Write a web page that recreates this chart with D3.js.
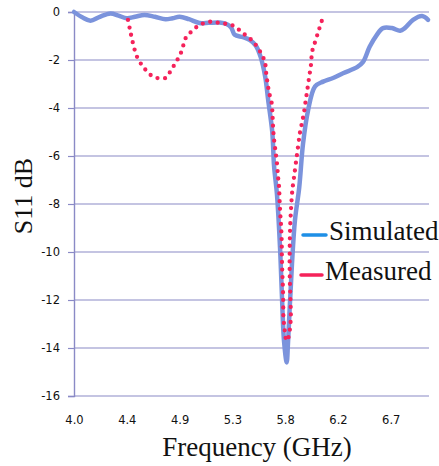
<!DOCTYPE html>
<html><head><meta charset="utf-8">
<script src="https://cdn.jsdelivr.net/npm/d3@7"></script>
<style>body{margin:0;background:#fff}svg{display:block}
.serif{font-family:"Liberation Serif","Times New Roman","DejaVu Serif",serif}
.sans{font-family:"DejaVu Sans",Verdana,sans-serif}</style>
</head><body>
<svg id="c" width="439" height="466"></svg>
<script>
const xTickValues = [4.0, 4.45, 4.9, 5.35, 5.8, 6.25, 6.7];
const xTickLabels = ["4.0", "4.4", "4.9", "5.3", "5.8", "6.2", "6.7"];
const yTickValues = [0, -2, -4, -6, -8, -10, -12, -14, -16];

const simFreq = [4.00,4.07,4.14,4.22,4.31,4.38,4.45,4.52,4.60,4.69,4.78,4.84,4.90,4.98,5.07,5.15,5.24,5.30,5.34,5.37,5.44,5.50,5.55,5.59,5.63,5.655,5.69,5.705,5.73,5.756,5.773,5.79,5.813,5.824,5.84,5.858,5.883,5.92,5.952,5.995,6.055,6.123,6.208,6.293,6.413,6.464,6.52,6.58,6.634,6.71,6.78,6.82,6.89,6.967,7.018];
const simS11  = [0,-0.22,-0.36,-0.2,-0.06,-0.15,-0.26,-0.2,-0.12,-0.2,-0.3,-0.26,-0.2,-0.3,-0.46,-0.45,-0.44,-0.5,-0.65,-0.95,-1.05,-1.17,-1.4,-1.86,-2.7,-3.67,-5.0,-6.4,-7.6,-9.8,-11.9,-13.7,-14.6,-13.8,-12.2,-10.5,-8.7,-7.3,-5.5,-4.1,-3.1,-2.9,-2.75,-2.55,-2.3,-2.08,-1.45,-0.96,-0.67,-0.67,-0.78,-0.67,-0.33,-0.17,-0.33];

const measFreq = [4.46,4.48,4.50,4.54,4.60,4.66,4.71,4.78,4.83,4.88,4.92,4.95,5.00,5.07,5.12,5.18,5.24,5.30,5.36,5.44,5.53,5.603,5.628,5.637,5.645,5.654,5.665,5.685,5.693,5.698,5.705,5.715,5.73,5.74,5.748,5.752,5.758,5.765,5.77,5.772,5.775,5.78,5.783,5.785,5.792,5.80,5.81,5.825,5.838,5.848,5.845,5.840,5.838,5.840,5.843,5.850,5.858,5.864,5.875,5.891,5.910,5.927,5.944,5.96,5.975,5.99,6.005,6.02,6.03,6.055,6.08,6.097,6.123];
const measS11  = [-0.33,-0.8,-1.25,-1.9,-2.35,-2.65,-2.75,-2.75,-2.4,-2.0,-1.6,-1.1,-0.82,-0.54,-0.45,-0.4,-0.46,-0.5,-0.58,-0.88,-1.25,-1.8,-2.1,-2.5,-2.8,-3.1,-3.4,-3.8,-4.4,-4.9,-5.3,-5.7,-6.3,-6.9,-7.3,-7.8,-8.4,-8.9,-9.5,-10.2,-10.8,-11.4,-12.0,-12.7,-13.1,-13.4,-13.7,-13.6,-13.3,-12.7,-12.0,-11.2,-10.5,-9.5,-8.9,-8.2,-7.6,-7.3,-6.9,-6.3,-5.6,-5.0,-4.6,-4.2,-3.7,-3.2,-2.7,-2.2,-1.65,-1.25,-0.86,-0.6,-0.2];

const seriesNames = ["Simulated", "Measured"];

const svg = d3.select("#c");
const x = d3.scaleLinear().domain([4.0, 7.026]).range([74, 429]);
const y = d3.scaleLinear().domain([-16, 0]).range([396, 12]);
const gridColor = "#8a8ac6";

svg.append("g").selectAll("line").data(yTickValues).join("line")
  .attr("x1", x(4.0)).attr("x2", x(7.026))
  .attr("y1", d => y(d)).attr("y2", d => y(d))
  .attr("stroke", gridColor).attr("stroke-width", 1.2);

const yAxis = d3.axisLeft(y).tickValues(yTickValues).tickSize(6).tickPadding(8)
  .tickFormat(d => String(d));
const gy = svg.append("g").attr("transform", `translate(${x(4.0)},0)`).call(yAxis);
gy.attr("font-family", null).attr("font-size", null);
gy.select(".domain").attr("stroke", gridColor).attr("stroke-width", 1.4);
gy.selectAll(".tick line").attr("stroke", gridColor).attr("stroke-width", 1.2);
gy.selectAll("text").attr("class", "sans").attr("font-size", 11.5).attr("fill", "#111");

const xAxis = d3.axisBottom(x).tickValues(xTickValues).tickSize(0).tickPadding(20)
  .tickFormat((d, i) => xTickLabels[i]);
const gx = svg.append("g").attr("transform", `translate(0,${y(-16)})`).call(xAxis);
gx.attr("font-family", null).attr("font-size", null);
gx.select(".domain").remove();
gx.selectAll("text").attr("class", "sans").attr("font-size", 11.5).attr("fill", "#111");

const line = d3.line().curve(d3.curveCatmullRom.alpha(0.5));
const simPts = simFreq.map((f, i) => [x(f), y(simS11[i])]);
const measPts = measFreq.map((f, i) => [x(f), y(measS11[i])]);

svg.append("path").attr("d", line(simPts)).attr("fill", "none")
  .attr("stroke", "#7b93dc").attr("stroke-width", 4.5)
  .attr("stroke-linejoin", "round").attr("stroke-linecap", "round");
svg.append("path").attr("d", line(measPts)).attr("fill", "none")
  .attr("stroke", "#f5225a").attr("stroke-width", 4.3)
  .attr("stroke-dasharray", "0 7.6").attr("stroke-linecap", "round");

svg.append("text").attr("class", "serif").attr("x", 257).attr("y", 456).attr("text-anchor", "middle")
  .attr("font-size", 27).attr("fill", "#111")
  .text("Frequency (GHz)");
svg.append("text").attr("class", "serif").attr("transform", "translate(32,196) rotate(-90)").attr("text-anchor", "middle")
  .attr("font-size", 26).attr("fill", "#111")
  .text("S11 dB");

const legend = svg.append("g");
const legColors = ["#1e8fe6", "#f5225a"];
const legY = [235, 275];
const legX1 = [303, 301];
const legX2 = [326, 322];
seriesNames.forEach((n, i) => {
  legend.append("line").attr("x1", legX1[i]).attr("x2", legX2[i]).attr("y1", legY[i]).attr("y2", legY[i])
    .attr("stroke", legColors[i]).attr("stroke-width", 3.5).attr("stroke-linecap", "round");
  legend.append("text").attr("class", "serif").attr("x", legX2[i] + 3).attr("y", legY[i] + 5)
    .attr("font-size", 27).attr("fill", "#111").text(n);
});
</script>
</body></html>
